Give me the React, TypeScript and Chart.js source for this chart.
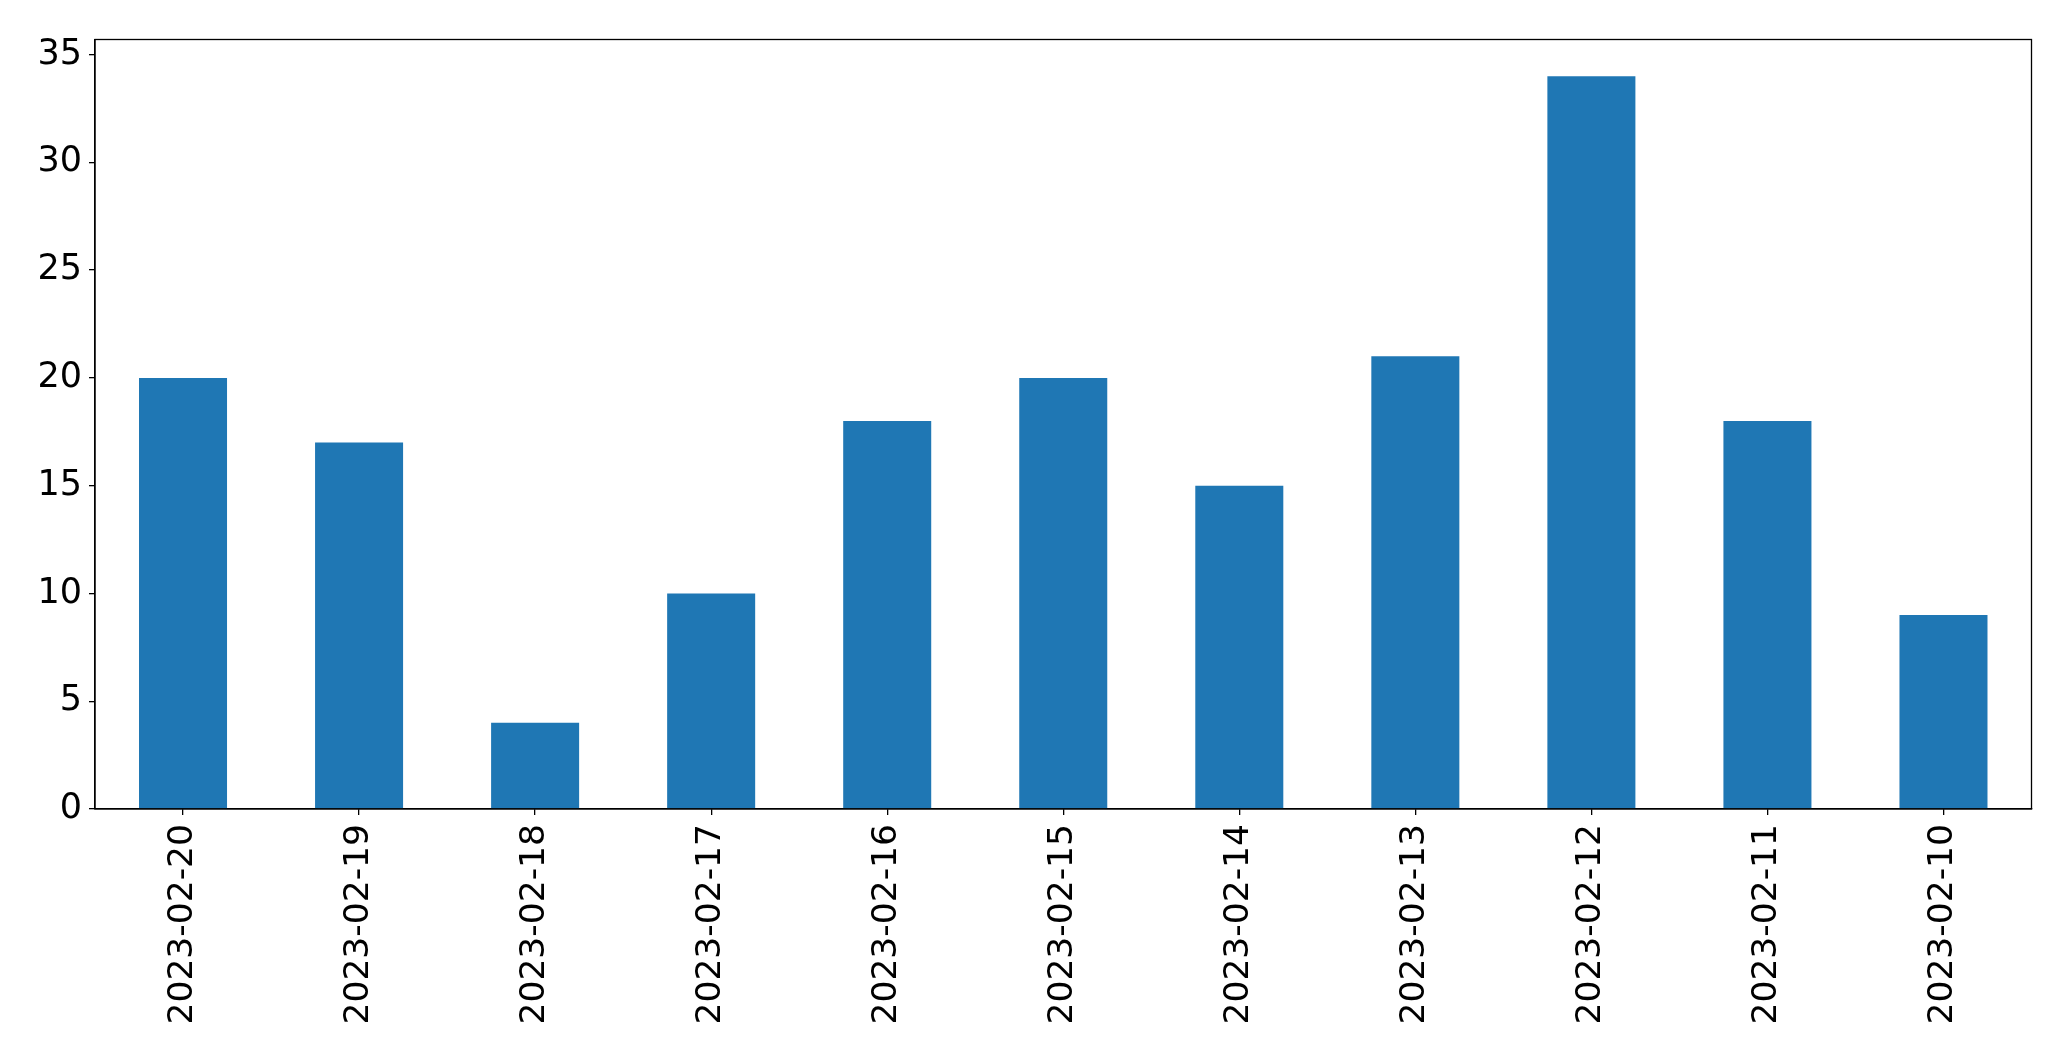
import React, { useEffect, useRef } from "react";
import { Chart, registerables } from "chart.js";

Chart.register(...registerables);

const categories = [
  "2023-02-20", "2023-02-19", "2023-02-18", "2023-02-17", "2023-02-16", "2023-02-15",
  "2023-02-14", "2023-02-13", "2023-02-12", "2023-02-11", "2023-02-10",
];
const counts = [20, 17, 4, 10, 18, 20, 15, 21, 34, 18, 9];
const yTickStep = 5;

const W = 2071;
const H = 1061;
const PLOT_LEFT = 95;
const PLOT_TOP = 39.5;
const PLOT_RIGHT = 2031.5;
const PLOT_BOTTOM = 809;

const frame = {
  id: "frame",
  afterDraw(chart: any) {
    const { ctx, chartArea } = chart;
    ctx.save();
    ctx.strokeStyle = "#000";
    ctx.lineWidth = 1.3;
    ctx.strokeRect(chartArea.left, chartArea.top, chartArea.right - chartArea.left, chartArea.bottom - chartArea.top);
    ctx.restore();
  },
};

export default function App() {
  const ref = useRef<HTMLCanvasElement>(null);
  useEffect(() => {
    if (!ref.current) return;
    const maxV = Math.max(...counts) * 1.05;
    const chart = new Chart(ref.current, {
      type: "bar",
      data: {
        labels: categories,
        datasets: [
          {
            data: counts,
            backgroundColor: "#1f77b4",
            barPercentage: 1,
            categoryPercentage: 0.5,
          },
        ],
      },
      plugins: [frame],
      options: {
        responsive: false,
        animation: false,
        layout: { padding: { left: 0, top: PLOT_TOP, right: W - PLOT_RIGHT, bottom: 0 } },
        plugins: { legend: { display: false }, tooltip: { enabled: false } },
        scales: {
          x: {
            offset: true,
            grid: { offset: false, drawOnChartArea: false, drawTicks: true, tickLength: 6, color: "#000", lineWidth: 1.3 },
            border: { display: true, color: "#000", width: 1.3 },
            ticks: { color: "#000", font: { family: "'DejaVu Sans'", size: 34.5 }, minRotation: 90, maxRotation: 90, padding: 9, autoSkip: false },
            afterFit: (s: any) => { s.height = H - PLOT_BOTTOM; },
          },
          y: {
            min: 0,
            max: maxV,
            grid: { drawOnChartArea: false, drawTicks: true, tickLength: 6, color: "#000", lineWidth: 1.3 },
            border: { display: true, color: "#000", width: 1.3 },
            ticks: { color: "#000", font: { family: "'DejaVu Sans'", size: 35 }, stepSize: yTickStep, includeBounds: false, padding: 7 },
            afterFit: (s: any) => { s.width = PLOT_LEFT; },
          },
        },
      },
    } as any);
    return () => chart.destroy();
  }, []);
  return (
    <div style={{ position: "fixed", left: 0, top: 0, width: W, height: H, background: "#fff" }}>
      <canvas ref={ref} width={W} height={H} style={{ width: W, height: H, display: "block" }} />
    </div>
  );
}
